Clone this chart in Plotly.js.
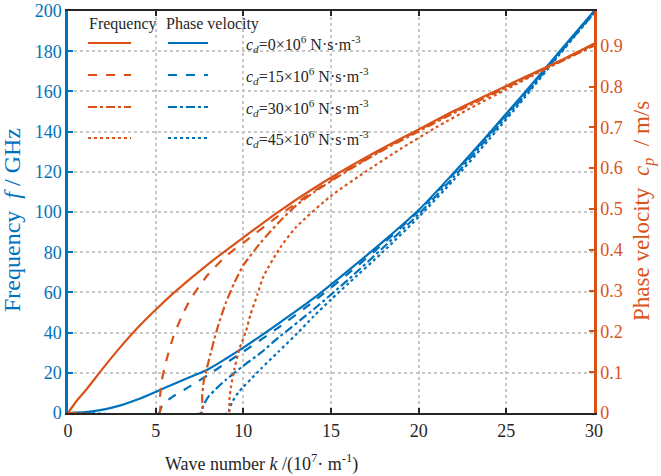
<!DOCTYPE html>
<html>
<head>
<meta charset="utf-8">
<script src="https://cdn.plot.ly/plotly-3.0.1.min.js"></script>
<style>html,body{margin:0;padding:0;background:#fff;}#chart{width:661px;height:476px;}</style>
</head>
<body>
<div id="chart"></div>
<script>
// ---- Data ----
// Blue curves, left axis (GHz)
const kBlue0 = [0,1,2,3,4,5,6,7,8,9,10,12,14,16,18,20,22,24,26,28,30];
const fBlue0 = [0,0.4,1.7,3.8,6.8,10.5,14.3,18,21.8,27,32.5,44.5,57,71,85.5,101,119.5,139,159,179.5,200];
const kBlue15 = [0,5.2,5.3,5.5,6,7,8,9,10,12,14,16,18,20,22,24,26,28,30];
const fBlue15 = [0,0,2.5,5,8.3,13.5,19,24.8,30.5,42.5,55.5,69.5,84.5,100.5,119,138.5,158.5,179,199.5];
const kBlue30 = [0,7.6,7.65,7.8,8,8.5,9,10,11,12,14,16,18,20,22,24,26,28,30];
const fBlue30 = [0,0,2,5,8,12.5,16.5,23.5,30,37.5,51.5,66.5,82.5,99,117.5,137.5,157.5,178.5,199];
const kBlue45 = [0,9.15,9.2,9.4,9.7,10,10.5,11,12,13,14,15,16,18,20,22,24,26,28,30];
const fBlue45 = [0,0,2,6,10,13,17.5,22,30.5,39,48,56.5,64.5,80.5,97.5,116,136,156.5,178,199];
// Orange curves, right axis (m/s)
const kOr0 = [0,0.5,1,2,3,4,5,6,7,8,9,10,12,14,16,18,20,22,24,26,28,30];
const vOr0 = [0,0.03,0.055,0.11,0.162,0.21,0.253,0.293,0.33,0.365,0.398,0.43,0.493,0.55,0.602,0.65,0.695,0.74,0.781,0.822,0.862,0.905];
const kOr15 = [0,5.2,5.25,5.35,5.6,6,6.5,7,8,9,10,12,14,16,18,20,22,24,26,28,30];
const vOr15 = [0,0,0.04,0.08,0.127,0.186,0.238,0.28,0.34,0.384,0.417,0.483,0.543,0.597,0.647,0.693,0.738,0.78,0.821,0.861,0.904];
const kOr30 = [0,7.6,7.65,7.75,8,8.5,9,9.5,10,11,12,13,14,16,18,20,22,24,26,28,30];
const vOr30 = [0,0,0.04,0.08,0.123,0.205,0.27,0.32,0.362,0.418,0.466,0.508,0.54,0.595,0.645,0.69,0.735,0.777,0.818,0.859,0.9];
const kOr45 = [0,9.15,9.2,9.3,9.5,9.8,10.15,10.4,10.8,11.15,12.1,13,15,17,19,21,23,25,27,30];
const vOr45 = [0,0,0.03,0.065,0.11,0.16,0.2,0.24,0.29,0.335,0.405,0.455,0.532,0.592,0.648,0.7,0.748,0.793,0.838,0.902];

const cdValues = ['0','15','30','45'];
const dashes = ['solid','dash','dashdot','dot'];
const BLUE = '#0072BD', ORANGE = '#D95319', INK = '#262626';
const FONT = 'Liberation Serif';

const blueK = [kBlue0,kBlue15,kBlue30,kBlue45], blueF = [fBlue0,fBlue15,fBlue30,fBlue45];
const orK = [kOr0,kOr15,kOr30,kOr45], orV = [vOr0,vOr15,vOr30,vOr45];

const traces = [];
for (let i=0;i<4;i++){
  traces.push({x:blueK[i], y:blueF[i], type:'scatter', mode:'lines', yaxis:'y',
    line:{color:BLUE, width:2.2, dash:dashes[i], shape:'spline', smoothing:0.6}, showlegend:false,
    name:'c_d='+cdValues[i]});
}
for (let i=0;i<4;i++){
  traces.push({x:orK[i], y:orV[i], type:'scatter', mode:'lines', yaxis:'y2',
    line:{color:ORANGE, width:2.2, dash:dashes[i], shape:'spline', smoothing:0.6}, showlegend:false,
    name:'c_d='+cdValues[i]});
}

// Custom legend (two columns of line samples + labels)
const shapes = [];
const annotations = [];
const W=661,H=476,L=68,R=67,T=11,B=63;
const pw=W-L-R, ph=H-T-B;
function px(x){return (x-L)/pw;}
function py(y){return (H-B-y)/ph;}
const rowY=[43,75,107,138];
for (let i=0;i<4;i++){
  shapes.push({type:'line', xref:'paper', yref:'paper', x0:px(88), x1:px(131), y0:py(rowY[i]), y1:py(rowY[i]),
    line:{color:ORANGE,width:2.2,dash:dashes[i]}});
  shapes.push({type:'line', xref:'paper', yref:'paper', x0:px(168), x1:px(208), y0:py(rowY[i]), y1:py(rowY[i]),
    line:{color:BLUE,width:2.2,dash:dashes[i]}});
  annotations.push({xref:'paper', yref:'paper', x:px(244), y:py(rowY[i]+1), xanchor:'left', yanchor:'middle',
    showarrow:false, font:{family:FONT,size:16,color:INK},
    text:'<i>c</i><sub><i>d</i></sub>='+cdValues[i]+'×10<sup>6</sup> N·s·m<sup>-3</sup>'});
}
annotations.push({xref:'paper',yref:'paper',x:px(87),y:py(24),xanchor:'left',yanchor:'middle',showarrow:false,
  font:{family:FONT,size:16,color:INK},text:'Frequency'});
annotations.push({xref:'paper',yref:'paper',x:px(164),y:py(24),xanchor:'left',yanchor:'middle',showarrow:false,
  font:{family:FONT,size:16,color:INK},text:'Phase velocity'});
// Axis titles
annotations.push({xref:'paper',yref:'paper',x:px(261),y:py(463),xanchor:'center',yanchor:'middle',showarrow:false,
  font:{family:FONT,size:18,color:INK},text:'Wave number <i>k</i> /(10<sup>7</sup>· m<sup>-1</sup>)'});
annotations.push({xref:'paper',yref:'paper',x:px(12),y:py(220),xanchor:'center',yanchor:'middle',showarrow:false,textangle:-90,
  font:{family:FONT,size:24,color:BLUE},text:'Frequency  <i>f</i> / GHz'});
annotations.push({xref:'paper',yref:'paper',x:px(644),y:py(211),xanchor:'center',yanchor:'middle',showarrow:false,textangle:-90,
  font:{family:FONT,size:23,color:ORANGE},text:'Phase velocity  <i>c</i><sub><i>p</i></sub>  / m/s'});

const layout = {
  width:W, height:H,
  margin:{l:L, r:R, t:T, b:B},
  paper_bgcolor:'#fff', plot_bgcolor:'#fff',
  font:{family:FONT, size:18, color:INK},
  xaxis:{range:[0,30], dtick:5, tick0:0, ticks:'inside', ticklen:5, tickwidth:2, tickcolor:INK,
    showline:true, linecolor:INK, linewidth:2, mirror:'ticks', zeroline:false,
    showgrid:true, gridcolor:'#c8c8c8', griddash:'dot', gridwidth:1.5, ticklabeloverflow:'allow',
    tickfont:{family:FONT,size:18,color:INK}},
  yaxis:{range:[0,200.05], dtick:20, tick0:0, ticks:'inside', ticklen:5, tickwidth:2, tickcolor:BLUE,
    showline:true, linecolor:BLUE, linewidth:2.5, zeroline:false, ticklabeloverflow:'allow',
    showgrid:true, gridcolor:'#c8c8c8', griddash:'dot', gridwidth:1.5,
    tickfont:{family:FONT,size:18,color:BLUE}},
  yaxis2:{range:[0,0.985], dtick:0.1, tick0:0, overlaying:'y', side:'right', ticks:'inside', ticklen:5, tickwidth:2,
    tickcolor:ORANGE, showline:true, linecolor:ORANGE, linewidth:2.5, zeroline:false, showgrid:false, ticklabeloverflow:'allow',
    tickfont:{family:FONT,size:18,color:ORANGE}},
  shapes:shapes, annotations:annotations, showlegend:false
};
Plotly.newPlot('chart', traces, layout, {displayModeBar:false});
</script>
</body>
</html>
